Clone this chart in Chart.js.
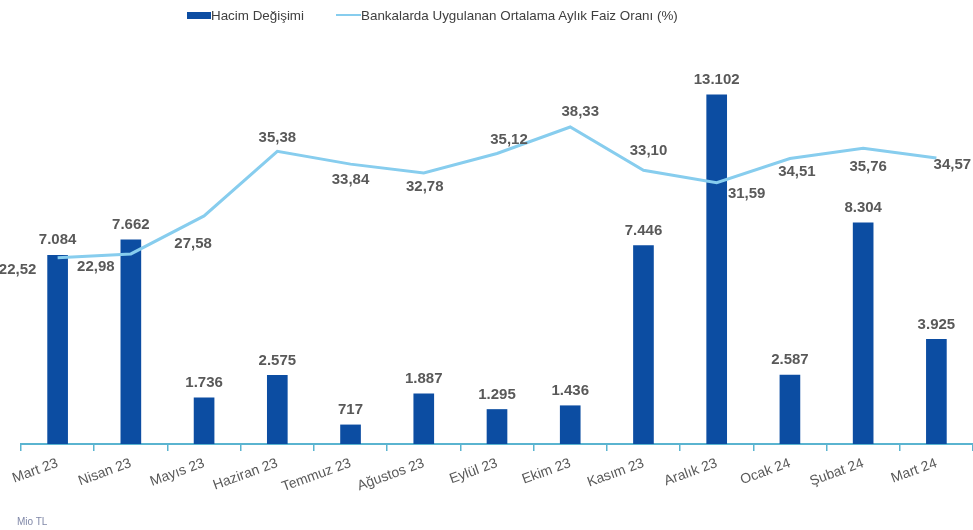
<!DOCTYPE html>
<html>
<head>
<meta charset="utf-8">
<script src="https://cdn.jsdelivr.net/npm/chart.js@4"></script>
<style>
  body { margin: 0; background: #fff; font-family: 'Liberation Sans', Arial, sans-serif; }
  #wrap { position: relative; width: 973px; height: 530px; }
  #legend { position: absolute; top: 7px; left: 187px; font-size: 13.4px; color: #404040; white-space: nowrap; }
  #legend span { display: inline-block; vertical-align: middle; }
  .box { width: 24px; height: 7px; background: #0c4da2; }
  .ln { width: 25px; height: 2px; background: #87cdee; margin-left: 32px; }
  #unit { position: absolute; left: 17px; top: 516px; font-size: 10px; color: #8088a8; }
</style>
</head>
<body>
<div id="wrap">
  <canvas id="chart" width="973" height="530"></canvas>
  <div id="legend"><span class="box"></span><span>Hacim Değişimi</span><span class="ln"></span><span>Bankalarda Uygulanan Ortalama Aylık Faiz Oranı (%)</span></div>
  <div id="unit">Mio TL</div>
</div>
<script>
const months = ['Mart 23', 'Nisan 23', 'Mayıs 23', 'Haziran 23', 'Temmuz 23', 'Ağustos 23', 'Eylül 23',
    'Ekim 23', 'Kasım 23', 'Aralık 23', 'Ocak 24', 'Şubat 24', 'Mart 24'];
const volume = [7084, 7662, 1736, 2575, 717, 1887, 1295, 1436, 7446, 13102, 2587, 8304, 3925];
const rate = [22.52, 22.98, 27.58, 35.38, 33.84, 32.78, 35.12, 38.33, 33.10, 31.59, 34.51, 35.76, 34.57];

// where each rate label sits relative to its point (dx, dy)
const rateLabelShift = [[-40, 12], [-35, 13], [-11, 28], [0, -14], [0, 16], [1, 14], [12, -14],
    [10, -15], [5, -19], [30, 11], [7, 13], [5, 19], [16, 7]];

const labelColor = '#595959';
const axisColor = '#5ab4d0';

const valueLabels = {
    id: 'valueLabels',
    afterDatasetsDraw(chart) {
        const ctx = chart.ctx;
        ctx.save();
        ctx.font = 'bold 15px "Liberation Sans", Arial, sans-serif';
        ctx.fillStyle = labelColor;
        ctx.textAlign = 'center';
        ctx.textBaseline = 'middle';
        chart.getDatasetMeta(1).data.forEach((bar, i) => {
            ctx.fillText(volume[i].toLocaleString('de-DE'), bar.x, bar.y - 15);
        });
        chart.getDatasetMeta(0).data.forEach((pt, i) => {
            const s = rateLabelShift[i];
            ctx.fillText(rate[i].toFixed(2).replace('.', ','), pt.x + s[0], pt.y + s[1]);
        });
        ctx.restore();
    }
};

new Chart(document.getElementById('chart').getContext('2d'), {
    data: {
        labels: months,
        datasets: [{
            type: 'line',
            label: 'Bankalarda Uygulanan Ortalama Aylık Faiz Oranı (%)',
            data: rate,
            yAxisID: 'y2',
            borderColor: '#87cdee',
            borderWidth: 3,
            pointRadius: 0,
            tension: 0,
            order: 0
        }, {
            type: 'bar',
            label: 'Hacim Değişimi',
            data: volume,
            yAxisID: 'y',
            backgroundColor: '#0c4da2',
            barThickness: 20,
            order: 1
        }]
    },
    options: {
        responsive: false,
        animation: false,
        layout: { padding: { top: 47, left: 21, right: 0, bottom: 0 } },
        plugins: {
            legend: { display: false },
            tooltip: { enabled: false }
        },
        scales: {
            x: {
                offset: true,
                border: { color: axisColor, width: 2 },
                grid: { drawOnChartArea: false, drawTicks: true, tickLength: 7, color: axisColor, lineWidth: 1.5, offset: true },
                ticks: {
                    color: labelColor,
                    font: { family: '"Liberation Sans", Arial, sans-serif', size: 14 },
                    minRotation: 20,
                    maxRotation: 20,
                    autoSkip: false,
                    padding: 4
                },
                afterFit: (scale) => { scale.height = 86; }
            },
            y: { display: false, min: 0, max: 14900 },
            y2: { display: false, min: 0, max: 48 }
        }
    },
    plugins: [valueLabels]
});
</script>
</body>
</html>
